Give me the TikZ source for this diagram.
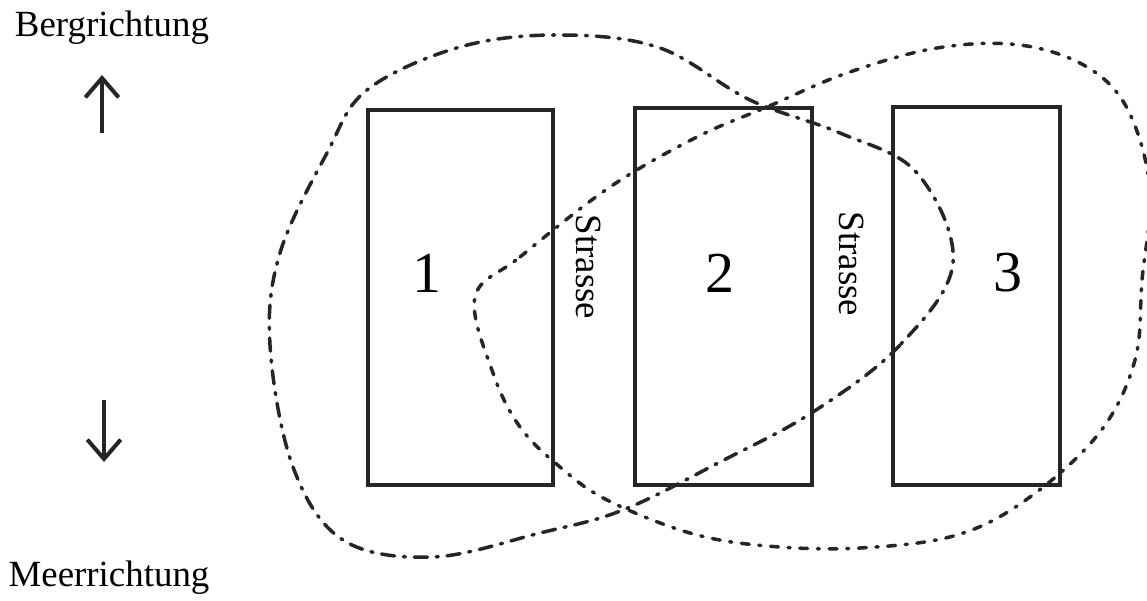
\documentclass[tikz,border=0pt]{standalone}
\usepackage{fontspec}
\setmainfont{Liberation Serif}
\usetikzlibrary{arrows.meta}
\begin{document}
\begin{tikzpicture}[x=0.02cm, y=-0.02cm,
  every node/.style={font={\fontsize{21}{25}\selectfont}, inner sep=0pt},
  plot/.style={draw=black!85, line width=2.3pt, rectangle},
  nummer/.style={font={\fontsize{33}{38}\selectfont}},
  strasse/.style={rotate=-90},
  richtung/.style={draw=black!85, line width=2.3pt, -{Straight Barb[length=11pt, width=19pt, line width=2.3pt]}},
  zoneA/.style={draw=black!85, line width=2pt, line cap=round, dash pattern=on 7.5pt off 5pt on 1.2pt off 5pt},
  zoneB/.style={draw=black!85, line width=2pt, line cap=round, dash pattern=on 4.5pt off 5.5pt on 1.2pt off 5.5pt}]
\useasboundingbox (0,0) rectangle (1147,601);
% Parzellen
\node[plot, minimum width=3.70cm, minimum height=7.50cm] (plot1) at (460.5,297.5) {};
\node[plot, minimum width=3.54cm, minimum height=7.54cm] (plot2) at (723.5,296.5) {};
\node[plot, minimum width=3.34cm, minimum height=7.56cm] (plot3) at (976.5,296) {};
\node[nummer] (num1) at (427,273) {1};
\node[nummer] (num2) at (720,273) {2};
\node[nummer] (num3) at (1008,273) {3};
% Strassen
\node[strasse] (strasse1) at (589,267) {Strasse};
\node[strasse] (strasse2) at (852,264) {Strasse};
% Richtungen
\node (berg) at (112,28) {Bergrichtung};
\node (meer) at (109,578) {Meerrichtung};
\coordinate (bergfuss) at (102,133);
\coordinate (bergspitze) at (102,75);
\coordinate (meerfuss) at (104,400);
\coordinate (meerspitze) at (104,462);
\draw[richtung] (bergfuss) -- (bergspitze);
\draw[richtung] (meerfuss) -- (meerspitze);
% Zonen
\draw[zoneA] plot[smooth cycle, tension=0.6] coordinates {
  (953,263) (900,345) (813,412) (720,462) (623,510) (540,533) (433,557)
  (343,540) (293,467) (270,345) (280,253) (327,153) (367,90) (460,47)
  (560,35) (660,48) (750,100) (840,133) (917,173)};
\draw[zoneB] plot[smooth cycle, tension=0.6] coordinates {
  (475,297) (520,257) (610,187) (697,137) (767,107) (847,73) (937,48)
  (1020,45) (1087,67) (1128,110) (1150,190) (1142,280) (1135,360)
  (1100,432) (1030,497) (957,535) (860,548) (767,546) (690,533)
  (607,500) (560,467) (520,427) (493,373)};
\end{tikzpicture}
\end{document}
